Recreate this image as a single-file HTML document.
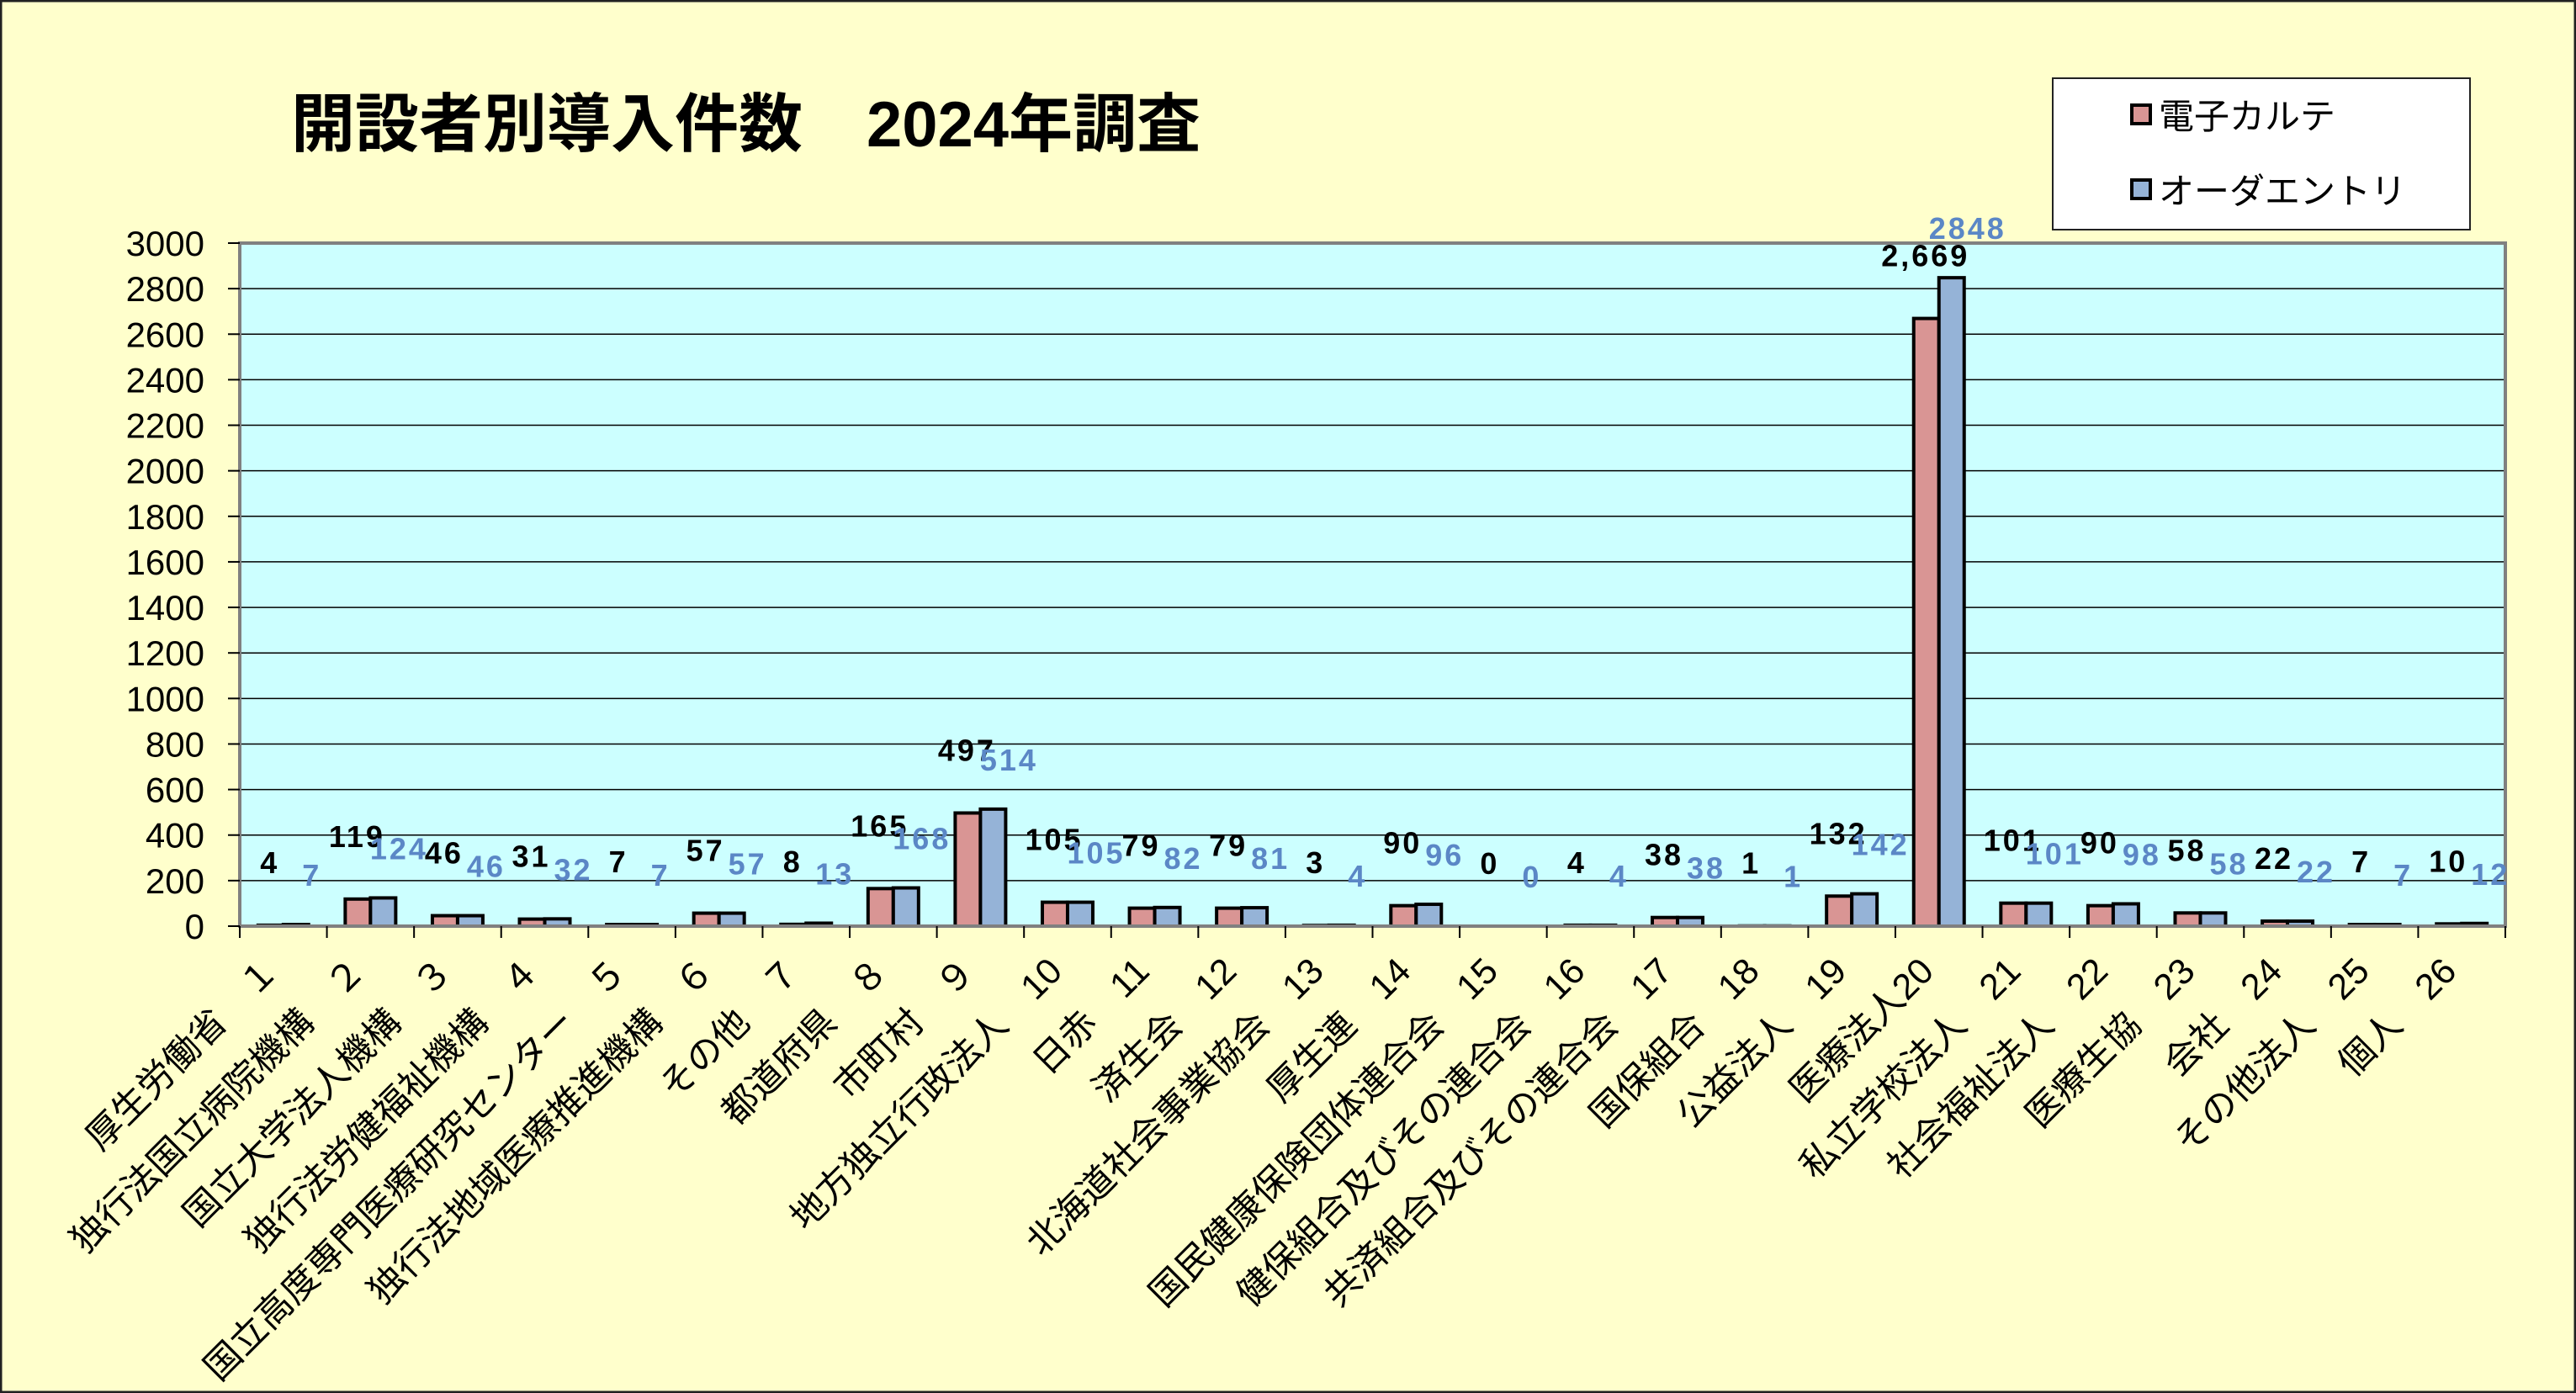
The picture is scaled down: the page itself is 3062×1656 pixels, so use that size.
<!DOCTYPE html>
<html><head><meta charset="utf-8"><style>
html,body{margin:0;padding:0;background:#ffffcc;}
svg{display:block;font-family:"Liberation Sans","Noto Sans CJK JP",sans-serif;}
</style></head><body>
<svg id="chart" width="3062" height="1656" viewBox="0 0 3062 1656" xmlns="http://www.w3.org/2000/svg">
<rect x="1" y="1" width="3060" height="1654" fill="#ffffcc" stroke="#222" stroke-width="3"/>
<text x="346" y="174" font-size="76" font-weight="bold" xml:space="preserve">開設者別導入件数　2024年調査</text>
<rect x="285" y="289" width="2693" height="812" fill="#ccffff"/>
<g id="grid"></g>
<g id="bars"></g>
<rect x="285" y="289" width="2693" height="812" fill="none" stroke="#808080" stroke-width="4"/>
<g id="yaxis"></g>
<g id="xaxis"></g>
<g id="labels"></g>
<g>
<rect x="2440" y="93" width="496" height="180" fill="#fff" stroke="#222" stroke-width="2"/>
<g><rect x="2534" y="125" width="22" height="22" fill="#d99594" stroke="#000" stroke-width="4"/><text x="2566" y="153" font-size="42">電子カルテ</text></g>
<g><rect x="2534" y="214" width="22" height="22" fill="#95b3d7" stroke="#000" stroke-width="4"/><text x="2566" y="242" font-size="42">オーダエントリ</text></g>
</g>
</svg>
<script>
const categories=["厚生労働省　１","独行法国立病院機構　２","国立大学法人機構　３","独行法労健福祉機構　４","国立高度専門医療研究センター　５","独行法地域医療推進機構　６","その他　７","都道府県　８","市町村　９","地方独立行政法人　10","日赤　11","済生会　12","北海道社会事業協会　13","厚生連　14","国民健康保険団体連合会　15","健保組合及びその連合会　16","共済組合及びその連合会　17","国保組合　18","公益法人　19","医療法人20","私立学校法人　21","社会福祉法人　22","医療生協　23","会社　24","その他法人　25","個人　26"];
const emrValues=[4,119,46,31,7,57,8,165,497,105,79,79,3,90,0,4,38,1,132,2669,101,90,58,22,7,10];
const orderValues=[7,124,46,32,7,57,13,168,514,105,82,81,4,96,0,4,38,1,142,2848,101,98,58,22,7,12];
const yTicks=[0,200,400,600,800,1000,1200,1400,1600,1800,2000,2200,2400,2600,2800,3000];
const NS="http://www.w3.org/2000/svg";
const L=285,R=2978,T=289,B=1101,YMAX=3000;
const y=v=>B-(v/YMAX)*(B-T);
const band=(R-L)/categories.length;
const xc=i=>L+band*(i+0.5);
function mk(tag,attrs,parent){const e=document.createElementNS(NS,tag);for(const k in attrs)e.setAttribute(k,attrs[k]);parent.appendChild(e);return e;}
const grid=document.getElementById('grid'),yaxis=document.getElementById('yaxis'),xaxis=document.getElementById('xaxis'),bars=document.getElementById('bars'),labels=document.getElementById('labels');
yTicks.forEach(t=>{
  if(t>0){const g=mk('line',{x1:L,x2:R,y1:y(t),y2:y(t),stroke:'#000','stroke-width':1.5},grid);
  
  }
  mk('line',{x1:L-14,x2:L,y1:y(t),y2:y(t),stroke:'#000','stroke-width':2},yaxis);
  const tx=mk('text',{x:L-42,y:y(t)+15,'text-anchor':'end','font-size':42},yaxis);
  
  
  tx.textContent=t;
});
for(let i=0;i<=categories.length;i++){mk('line',{x1:L+band*i,x2:L+band*i,y1:B,y2:B+14,stroke:'#000','stroke-width':2},xaxis);}
const bw=30;
categories.forEach((c,i)=>{
  const cx=xc(i);
  const r1=mk('rect',{x:cx-bw,y:y(emrValues[i]),width:bw,height:Math.max(0,B-y(emrValues[i])),fill:'#d99594',stroke:'#000','stroke-width':4},bars);
  
  
  const r2=mk('rect',{x:cx,y:y(orderValues[i]),width:bw,height:Math.max(0,B-y(orderValues[i])),fill:'#95b3d7',stroke:'#000','stroke-width':4},bars);
  
  
  const l1=mk('text',{x:cx-16,y:y(emrValues[i])-62,'text-anchor':'middle','font-size':36,'font-weight':'bold','letter-spacing':3,fill:'#000'},labels);
  
  
  l1.textContent=emrValues[i].toLocaleString('en-US');
  const l2=mk('text',{x:cx+34,y:y(orderValues[i])-46,'text-anchor':'middle','font-size':36,'font-weight':'bold','letter-spacing':3,fill:'#5b87c6'},labels);
  
  
  l2.textContent=orderValues[i];
  const ax=cx-4,ay=B+56;
  const xl=mk('text',{x:ax,y:ay,'text-anchor':'end','font-size':43,transform:`rotate(-45 ${ax} ${ay})`},xaxis);
  
  
  xl.textContent=c;
});
</script>
</body></html>
